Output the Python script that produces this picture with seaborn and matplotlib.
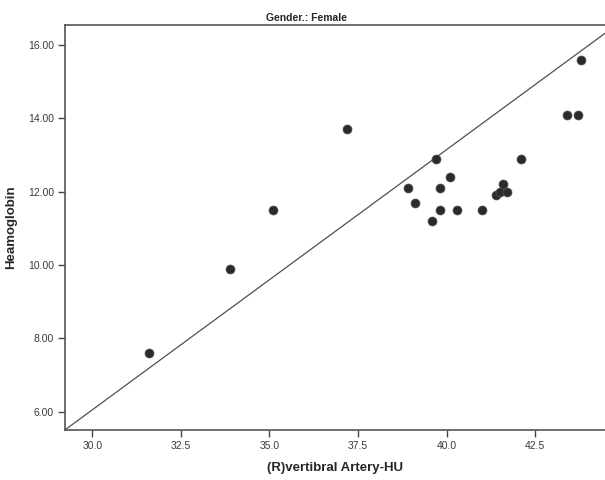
import numpy as np
import pandas as pd
import matplotlib
matplotlib.use("Agg")
import matplotlib.pyplot as plt
import seaborn as sns

# values
vert_hu = [37.2, 35.1, 33.9, 31.6, 43.8, 43.4, 43.7, 38.9, 39.1, 39.8, 40.1,
           39.8, 39.6, 40.3, 41.0, 41.4, 41.5, 41.6, 41.7, 39.7, 42.1]
haemoglobin = [13.7, 11.5, 9.9, 7.6, 15.6, 14.1, 14.1, 12.1, 11.7, 12.1, 12.4,
               11.5, 11.2, 11.5, 11.5, 11.9, 12.0, 12.2, 12.0, 12.9, 12.9]
ref_intercept = -15.25
ref_slope = 0.71
x_ticks = [30.0, 32.5, 35.0, 37.5, 40.0, 42.5]
y_ticks = [6.0, 8.0, 10.0, 12.0, 14.0, 16.0]

df = pd.DataFrame({"hu": vert_hu, "hb": haemoglobin})

sns.set_theme(style="white")
plt.rcParams['font.family'] = ['Liberation Sans', 'DejaVu Sans']

fig = plt.figure(figsize=(6.05, 4.8), dpi=100)
ax = fig.add_axes([65/605, 50/480, 540/605, 405/480])

# reference line
ax.axline((0, ref_intercept), slope=ref_slope, color='#505050', lw=0.9, zorder=1)

sns.scatterplot(data=df, x="hu", y="hb", ax=ax, s=42, color='#2a2a2a',
                edgecolor='#555555', linewidth=0.5, zorder=3)

ax.set_xlim(29.23, 44.47)
ax.set_ylim(5.50, 16.55)
ax.set_xticks(x_ticks)
ax.set_xticklabels([f"{v:.1f}" for v in x_ticks])
ax.set_yticks(y_ticks)
ax.set_yticklabels([f"{v:.2f}" for v in y_ticks])
ax.tick_params(axis='both', direction='out', length=5, width=1, color='#444444',
               labelsize=7.5, labelcolor='#3a3a3a', pad=3,
               bottom=True, left=True)

for side in ['left', 'bottom', 'top']:
    ax.spines[side].set_color('#555555')
    ax.spines[side].set_linewidth(1.2)
ax.spines['right'].set_visible(False)

ax.set_xlabel('(R)vertibral Artery-HU', fontsize=9.5, fontweight='bold', labelpad=8)
ax.set_ylabel('Heamoglobin', fontsize=9.5, fontweight='bold', labelpad=8)
fig.text(307/605, 1 - 18/480, 'Gender.: Female', ha='center', va='center',
         fontsize=7.5, fontweight='bold')

fig.savefig("out.png", dpi=100)
